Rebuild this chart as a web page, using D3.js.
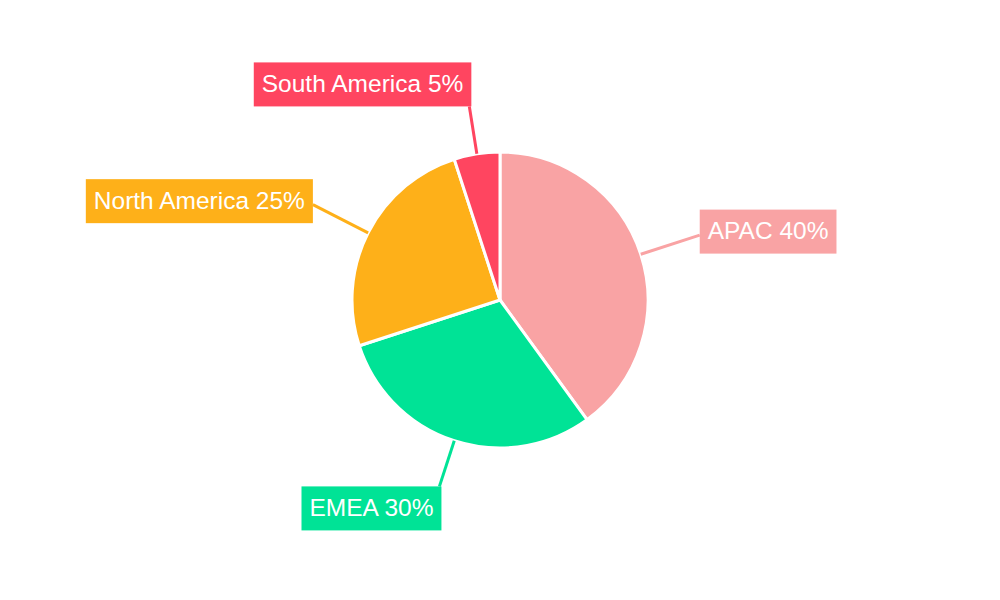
<!DOCTYPE html>
<html><head><meta charset="utf-8">
<script src="https://cdn.jsdelivr.net/npm/d3@7"></script>
<style>body{margin:0;background:#fff}svg{display:block}</style>
</head><body>
<svg id="c" width="1000" height="600"></svg>
<script>
const categories = ["APAC", "EMEA", "North America", "South America"];
const values = [40, 30, 25, 5];
const colors = ["#F9A3A4", "#00E396", "#FEB019", "#FF4560"];

const W = 1000, H = 600, cx = 500, cy = 300, R = 148;
const svg = d3.select("#c");
const g = svg.append("g").attr("transform", `translate(${cx},${cy})`);

const data = categories.map((c, i) => ({ name: c, value: values[i], color: colors[i] }));
const pie = d3.pie().value(d => d.value).sort(null);
const arcs = pie(data);
const arc = d3.arc().innerRadius(0).outerRadius(R);

g.selectAll("path.slice").data(arcs).enter().append("path")
  .attr("d", arc).attr("fill", d => d.data.color)
  .attr("stroke", "#fff").attr("stroke-width", 3).attr("stroke-linejoin", "round");

arcs.forEach(d => {
  const a = (d.startAngle + d.endAngle) / 2;
  const sx = Math.sin(a), sy = -Math.cos(a);
  const side = Math.abs(sx) > 0.7;
  const rl = side ? 210 : 196;
  const p0 = [sx * R, sy * R], p1 = [sx * rl, sy * rl];
  g.append("line").attr("x1", p0[0]).attr("y1", p0[1]).attr("x2", p1[0]).attr("y2", p1[1])
    .attr("stroke", d.data.color).attr("stroke-width", 3);
  const lg = g.append("g");
  const rect = lg.append("rect").attr("fill", d.data.color);
  const t = lg.append("text").text(`${d.data.name} ${d.data.value}%`)
    .style("font-family", "'Liberation Sans', Arial, sans-serif").style("font-size", "24.5px")
    .attr("fill", "#fff").attr("dominant-baseline", "central").attr("text-anchor", "start");
  const tw = t.node().getComputedTextLength();
  const bw = tw + 16, bh = 44;
  let bx, by;
  if (side) {
    bx = sx > 0 ? p1[0] : p1[0] - bw;
    by = p1[1] - 3.5 - bh / 2;
  } else {
    bx = sx > 0 ? p1[0] - 4 : p1[0] - bw + 2;
    by = sy < 0 ? p1[1] - bh : p1[1];
  }
  rect.attr("x", bx).attr("y", by).attr("width", bw).attr("height", bh);
  t.attr("x", bx + 8).attr("y", by + bh / 2 - 1);
});
</script>
</body></html>
